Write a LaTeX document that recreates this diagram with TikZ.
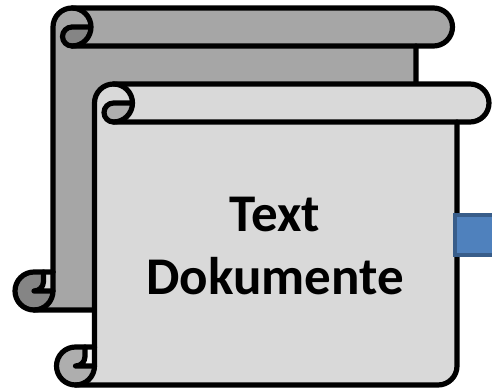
\documentclass[tikz,border=0pt]{standalone}
\usepackage{fontspec}
\setmainfont{Carlito}
\definecolor{backfill}{HTML}{A6A6A6}
\definecolor{backdark}{HTML}{858585}
\definecolor{backlight}{HTML}{DADADA}
\definecolor{frontfill}{HTML}{D9D9D9}
\definecolor{frontdark}{HTML}{AEAEAE}
\definecolor{frontlight}{HTML}{F4F4F4}
\definecolor{blueface}{HTML}{4F81BD}
\definecolor{blueedge}{HTML}{385D8A}
\tikzset{
  outline/.style={draw=black,line width=5.2pt,line join=round,line cap=round},
  darkpart/.style={fill=#1,draw=none},
  label/.style={font=\bfseries\fontsize{53}{63}\selectfont,align=center,text=black},
}
% #1 left, #2 top, #3 body right, #4 roll right end, #5 bottom, #6 fill, #7 dark, #8 light
\newcommand{\myscroll}[8]{%
  \pgfmathsetmacro{\La}{#1}\pgfmathsetmacro{\Ta}{#2}%
  \pgfmathsetmacro{\Ra}{#3}\pgfmathsetmacro{\Ea}{#4}\pgfmathsetmacro{\Ba}{#5}%
  \path[fill=#6] (\La,\Ta+19) arc[start angle=180,end angle=90,radius=19pt]
    -- (\Ea-19,\Ta) arc[start angle=90,end angle=-90,radius=19pt]
    -- (\Ra,\Ta+38) -- (\Ra,\Ba-19) arc[start angle=0,end angle=-90,radius=19pt]
    -- (\La-19,\Ba) arc[start angle=270,end angle=90,radius=19pt]
    -- (\La,\Ba-38) -- cycle;
  \path[darkpart=#7] (\La+19,\Ta+19) -- (\La+38,\Ta+19)
    arc[start angle=0,end angle=-90,radius=19pt]
    arc[start angle=270,end angle=90,radius=9.5pt] -- cycle;
  \path[darkpart=#7] (\La,\Ba-19) -- (\La-19,\Ba-19)
    arc[start angle=-90,end angle=0,radius=9.5pt] -- (\La-9.5,\Ba-38)
    -- (\La-19,\Ba-38) arc[start angle=90,end angle=270,radius=19pt]
    arc[start angle=-90,end angle=0,radius=19pt] -- cycle;
  \path[darkpart=#8] (\La-9.5,\Ba-38) rectangle (\La,\Ba-19);
  \draw[outline] (\La,\Ba-38) -- (\La,\Ta+19) arc[start angle=180,end angle=90,radius=19pt]
    -- (\Ea-19,\Ta) arc[start angle=90,end angle=-90,radius=19pt] -- (\La+19,\Ta+38);
  \draw[outline] (\La+19,\Ta) arc[start angle=90,end angle=-90,radius=19pt]
    arc[start angle=270,end angle=90,radius=9.5pt] -- (\La+38,\Ta+19);
  \draw[outline] (\Ra,\Ta+38) -- (\Ra,\Ba-19) arc[start angle=0,end angle=-90,radius=19pt]
    -- (\La-19,\Ba) arc[start angle=270,end angle=90,radius=19pt] -- (\La,\Ba-38);
  \draw[outline] (\La,\Ba-38) -- (\La,\Ba-19) arc[start angle=0,end angle=-90,radius=19pt];
  \draw[outline] (\La-9.5,\Ba-38) -- (\La-9.5,\Ba-28.5)
    arc[start angle=0,end angle=-90,radius=9.5pt] -- (\La,\Ba-19);
}
\begin{document}
\begin{tikzpicture}[x=1pt,y=-1pt]
\useasboundingbox (0,0) rectangle (492,388);
\begin{scope}
\clip (0,0) rectangle (492,388);
\myscroll{53}{8}{416}{452.5}{310}{backfill}{backdark}{backlight}
\myscroll{94.5}{84}{457}{489}{385}{frontfill}{frontdark}{frontlight}
\node[draw=blueedge,fill=blueface,line width=4pt,minimum width=50pt,minimum height=40pt,anchor=west,inner sep=0pt] (box) at (453,235) {};
\end{scope}
\node[label] (txt) at (275,246) {Text\\Dokumente};
\end{tikzpicture}
\end{document}
